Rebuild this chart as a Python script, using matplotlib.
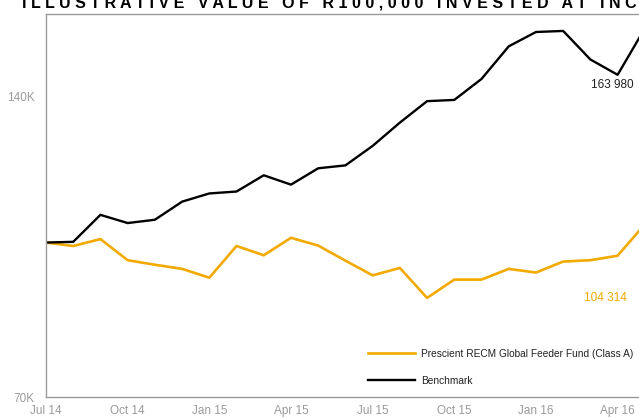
import matplotlib
matplotlib.use("Agg")
import matplotlib.pyplot as plt
import numpy as np

# monthly values, Jul 14 .. May 16 (rand thousands)
months = ["Jul 14", "Aug 14", "Sep 14", "Oct 14", "Nov 14", "Dec 14",
          "Jan 15", "Feb 15", "Mar 15", "Apr 15", "May 15", "Jun 15",
          "Jul 15", "Aug 15", "Sep 15", "Oct 15", "Nov 15", "Dec 15",
          "Jan 16", "Feb 16", "Mar 16", "Apr 16", "May 16"]
fund = [100.0, 99.2, 100.8, 96.0, 95.0, 94.1, 92.2, 99.2, 97.1, 101.1, 99.3, 95.9,
        92.7, 94.3, 88.0, 91.8, 91.8, 94.1, 93.3, 95.7, 96.0, 97.0, 104.314]
bench = [100.0, 100.16, 106.6, 104.6, 105.4, 109.9, 112.0, 112.5, 116.8, 114.3, 118.7, 119.5,
         125.0, 131.9, 138.6, 139.0, 145.9, 157.3, 162.6, 163.0, 152.6, 147.3, 163.98]
tick_idx = [0, 3, 6, 9, 12, 15, 18, 21]
ytick_vals = [70, 140]
ytick_labels = ["70K", "140K"]

gold = "#F2AA00"
plt.rcParams["font.family"] = ["Liberation Sans", "DejaVu Sans"]

W, H = 639, 418
fig = plt.figure(figsize=(W / 100, H / 100), dpi=100)
# axes box in pixels: left 46, top 14, bottom 397, right past the figure edge
ax = fig.add_axes([46 / W, 1 - 397 / H, (653 - 46) / W, (397 - 14) / H])

x = np.arange(len(months))
ax.plot(x, fund, color=gold, lw=1.9, label="Prescient RECM Global Feeder Fund (Class A)")
ax.plot(x, bench, color="black", lw=1.7, label="Benchmark")

ax.set_yscale("log")
ax.set_ylim(70, 169.5)
ax.set_xlim(0, 22.3)
ax.set_yticks(ytick_vals)
ax.set_yticklabels(ytick_labels)
ax.yaxis.set_minor_locator(matplotlib.ticker.NullLocator())
ax.set_xticks(tick_idx)
ax.set_xticklabels([months[i] for i in tick_idx])
ax.tick_params(axis="y", length=0, pad=8, labelsize=8.5, colors="#9a9a9a")
ax.tick_params(axis="x", length=0, pad=6, labelsize=8.5, colors="#9a9a9a")
for s in ax.spines.values():
    s.set_color("#9a9a9a")
    s.set_linewidth(1)

# end-value labels
ax.text(20.8, 145.8, "163 980", ha="center", va="top", fontsize=8.5, color="#222222")
ax.text(20.55, 88.0, "104 314", ha="center", va="center", fontsize=8.5, color=gold)

ax.legend(loc="upper left", bbox_to_anchor=(368 / W, 1 - 349 / H), bbox_transform=fig.transFigure,
          frameon=False, fontsize=7.3, handlelength=4.6, handletextpad=0.6,
          labelspacing=1.65, borderpad=0, borderaxespad=0, labelcolor="#222222")

# title, cut off by the top edge
fig.text(22 / W, 1 - 7 / H, "I L L U S T R A T I V E   V A L U E   O F   R 1 0 0 , 0 0 0   I N V E S T E D   A T   I N C E P T I O N",
         ha="left", va="baseline", fontsize=11.5, fontweight="bold", color="black")

fig.savefig("out.png", dpi=100)
